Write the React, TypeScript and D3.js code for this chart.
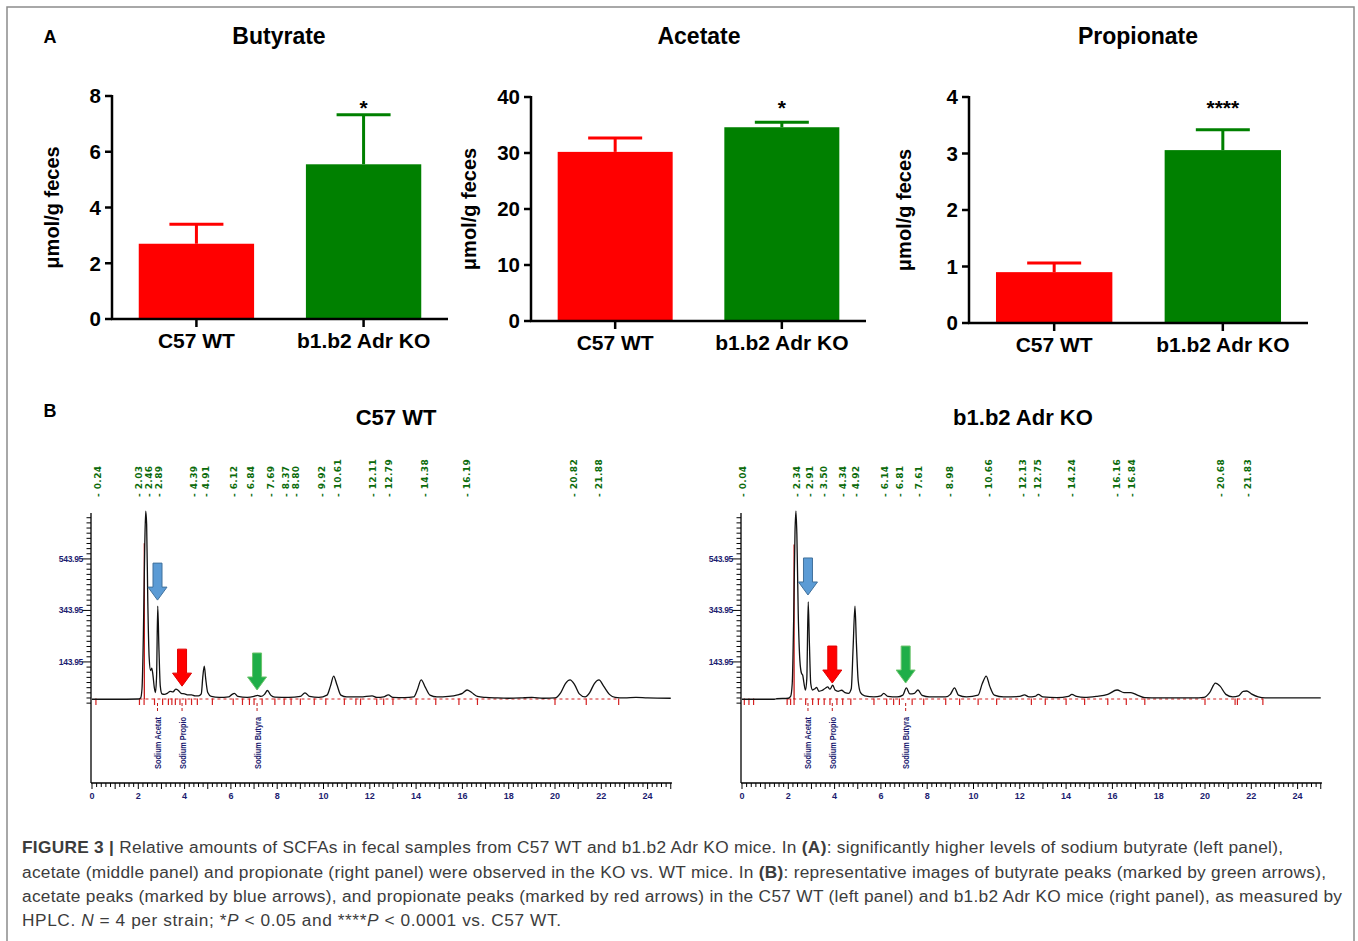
import React from "react";
import * as d3 from "d3";

// ---- panel A : SCFA amounts ----
const groups = ["C57 WT", "b1.b2 Adr KO"];
const acidNames = ["Butyrate", "Acetate", "Propionate"];
const wtMeans = [2.7, 30.2, 0.9];
const koMeans = [5.55, 34.6, 3.06];
const wtErrors = [0.7, 2.5, 0.16];
const koErrors = [1.78, 0.9, 0.36];
const yMaxes = [8, 40, 4];
const yTickSteps = [2, 10, 1];
const significance = ["*", "*", "****"];

// ---- panel B : HPLC traces (time in min, signal) ----
const wtTrace: [number, number][] = [
  [0, -1], [1, -1], [2, 0], [2.1, 4], [2.16, 40], [2.22, 250], [2.28, 600], [2.32, 730], [2.36, 680],
  [2.41, 380], [2.47, 160], [2.53, 110], [2.58, 120], [2.63, 95], [2.69, 45], [2.74, 25], [2.79, 90],
  [2.84, 361], [2.89, 200], [2.95, 50], [3.02, 20], [3.12, 18], [3.25, 22], [3.38, 30], [3.5, 28],
  [3.62, 38], [3.72, 34], [3.85, 22], [4.0, 20], [4.15, 16], [4.3, 16], [4.45, 12], [4.6, 12], [4.72, 20],
  [4.79, 90], [4.85, 128], [4.91, 80], [5.0, 25], [5.15, 10], [5.5, 6], [5.9, 8], [6.05, 18], [6.15, 22],
  [6.3, 10], [6.7, 6], [7.0, 10], [7.15, 14], [7.3, 10], [7.45, 18], [7.58, 33], [7.72, 15], [7.9, 7],
  [8.5, 6], [9.0, 10], [9.2, 24], [9.4, 10], [9.8, 6], [10.15, 15], [10.3, 50], [10.44, 89], [10.58, 55],
  [10.75, 15], [11.0, 8], [11.6, 8], [12.1, 12], [12.3, 6], [12.6, 8], [12.8, 16], [13.0, 6], [13.5, 5],
  [13.9, 8], [14.05, 35], [14.22, 74], [14.4, 45], [14.6, 15], [14.9, 8], [15.4, 10], [15.8, 16], [16.0, 22],
  [16.2, 35], [16.4, 25], [16.65, 10], [17.0, 6], [17.5, 4], [18.0, 3], [18.5, 4], [19.0, 6], [19.5, 3],
  [20.0, 4], [20.25, 25], [20.45, 60], [20.65, 74], [20.85, 55], [21.05, 20], [21.3, 8], [21.5, 25],
  [21.7, 60], [21.9, 74], [22.1, 50], [22.35, 18], [22.6, 6], [23.0, 4], [23.5, 6], [24.0, 4], [25.0, 3],
];
const koTrace: [number, number][] = [
  [0, -1], [1.4, -1], [1.5, 1], [2.0, 3], [2.1, 10], [2.17, 60], [2.23, 300], [2.29, 650], [2.33, 730],
  [2.37, 640], [2.43, 330], [2.5, 150], [2.57, 100], [2.62, 93], [2.68, 60], [2.74, 35], [2.8, 80],
  [2.86, 377], [2.91, 220], [2.97, 60], [3.05, 35], [3.15, 40], [3.22, 45], [3.32, 30], [3.45, 33],
  [3.6, 42], [3.7, 47], [3.8, 38], [3.92, 54], [4.02, 35], [4.15, 30], [4.3, 34], [4.45, 25], [4.6, 22],
  [4.72, 40], [4.8, 200], [4.88, 361], [4.94, 220], [5.02, 70], [5.12, 25], [5.3, 12], [5.7, 8], [6.0, 12],
  [6.12, 22], [6.3, 10], [6.7, 8], [6.95, 15], [7.1, 43], [7.25, 20], [7.45, 22], [7.6, 35], [7.78, 14],
  [8.1, 8], [8.8, 8], [9.0, 18], [9.18, 43], [9.35, 15], [9.7, 8], [10.2, 15], [10.38, 60], [10.55, 89],
  [10.7, 50], [10.9, 15], [11.3, 8], [12.0, 10], [12.2, 16], [12.4, 8], [12.65, 10], [12.8, 18], [13.0, 8],
  [13.6, 5], [14.1, 10], [14.25, 18], [14.45, 10], [14.8, 6], [15.3, 10], [15.8, 18], [16.2, 35], [16.5, 25],
  [16.8, 25], [17.1, 14], [17.4, 5], [18, 4], [19.5, 4], [19.95, 6], [20.2, 25], [20.45, 62], [20.65, 50],
  [20.9, 18], [21.2, 8], [21.45, 12], [21.65, 30], [21.8, 31], [22.0, 20], [22.3, 8], [22.6, 4], [25.0, 4],
];
const wtPeakLabels = ["0.24", "2.03", "2.46", "2.89", "4.39", "4.91", "6.12", "6.84", "7.69", "8.37", "8.80",
  "9.92", "10.61", "12.11", "12.79", "14.38", "16.19", "20.82", "21.88"];
const koPeakLabels = ["0.04", "2.34", "2.91", "3.50", "4.34", "4.92", "6.14", "6.81", "7.61", "8.98", "10.66",
  "12.13", "12.75", "14.24", "16.16", "16.84", "20.68", "21.83"];
const wtCutMarks = [0.17, 2.05, 2.25, 2.7, 3.05, 3.3, 3.45, 3.6, 3.8, 4.05, 4.3, 4.55, 5.2, 6.1, 6.5, 6.8, 7.0,
  7.35, 7.9, 8.3, 8.6, 9.0, 9.6, 10.1, 10.9, 11.4, 11.6, 12.3, 12.6, 13.0, 14.0, 14.85, 15.85, 16.65, 20.0, 21.35, 22.75];
const koCutMarks = [0.1, 0.3, 0.5, 1.95, 2.1, 2.25, 2.75, 3.05, 3.3, 3.55, 3.8, 4.1, 4.35, 4.7, 5.7, 6.25, 6.55,
  6.8, 7.35, 7.85, 8.8, 9.4, 10.2, 11.0, 12.5, 13.1, 14.0, 14.8, 15.8, 16.6, 17.4, 20.0, 21.3, 21.4, 22.5];
const wtSpike = [2.26, 605];
const koSpike = [2.25, 600];
const compounds = ["Sodium Acetat", "Sodium Propio", "Sodium Butyra"];
const wtCompoundTimes = [2.83, 3.89, 7.13];
const koCompoundTimes = [2.85, 3.9, 7.07];
const wtArrowTips = [384, 50, 35];
const koArrowTips = [404, 62, 62];
const arrowFills = ["#5b9bd5", "#ff0000", "#1fae48"];
const arrowStrokes = ["#41719c", "#e00000", "#6cc46c"];
const chromYLabels = [143.95, 343.95, 543.95];

const FONT = "'Liberation Sans', Arial, Helvetica, sans-serif";
const NAVY = "#1c1c70";

const barLayout = [
  { axisX: 112, endX: 448, y0: 319, yTop: 96, titleX: 279, labelX: 59 },
  { axisX: 531, endX: 866, y0: 321, yTop: 97, titleX: 699, labelX: 476 },
  { axisX: 969, endX: 1308, y0: 323, yTop: 97, titleX: 1138, labelX: 911 },
];

const BarPanel = ({ i }: { i: number }) => {
  const L = barLayout[i];
  const x = d3.scaleBand().domain(groups).range([L.axisX, L.endX]).paddingInner(0.31).paddingOuter(0.16);
  const y = d3.scaleLinear().domain([0, yMaxes[i]]).range([L.y0, L.yTop]);
  const ticks = d3.range(0, yMaxes[i] + 0.001, yTickSteps[i]);
  const means = [wtMeans[i], koMeans[i]];
  const errs = [wtErrors[i], koErrors[i]];
  const colors = ["#ff0000", "#008000"];
  return (
    <g fontFamily={FONT} fontWeight="bold">
      <text x={L.titleX} y={44} textAnchor="middle" fontSize={23}>{acidNames[i]}</text>
      <text transform={`translate(${L.labelX},${(L.y0 + L.yTop) / 2}) rotate(-90)`} textAnchor="middle" fontSize={20}>
        μmol/g feces
      </text>
      {groups.map((g, k) => {
        const cx = (x(g) as number) + x.bandwidth() / 2;
        const top = y(means[k] + errs[k]);
        return (
          <g key={g}>
            <rect x={x(g)} y={y(means[k])} width={x.bandwidth()} height={L.y0 - y(means[k])} fill={colors[k]} />
            <line x1={cx} x2={cx} y1={y(means[k])} y2={top} stroke={colors[k]} strokeWidth={3} />
            <line x1={cx - 27} x2={cx + 27} y1={top} y2={top} stroke={colors[k]} strokeWidth={3} />
            <line x1={cx} x2={cx} y1={L.y0} y2={L.y0 + 8} stroke="#000" strokeWidth={2.5} />
            <text x={cx} y={L.y0 + 29} textAnchor="middle" fontSize={21}>{g}</text>
          </g>
        );
      })}
      <text x={(x(groups[1]) as number) + x.bandwidth() / 2} y={115} textAnchor="middle" fontSize={21}>
        {significance[i]}
      </text>
      <line x1={L.axisX} x2={L.axisX} y1={L.yTop - 1} y2={L.y0 + 1} stroke="#000" strokeWidth={2.5} />
      <line x1={L.axisX - 1} x2={L.endX} y1={L.y0} y2={L.y0} stroke="#000" strokeWidth={2.5} />
      {ticks.map((t) => (
        <g key={t}>
          <line x1={L.axisX - 7} x2={L.axisX} y1={y(t)} y2={y(t)} stroke="#000" strokeWidth={2.5} />
          <text x={L.axisX - 11} y={y(t)} dy="0.36em" textAnchor="end" fontSize={20.5}>{t}</text>
        </g>
      ))}
    </g>
  );
};

type ChromProps = {
  x0: number; trace: [number, number][]; cutMarks: number[]; labels: string[];
  compoundTimes: number[]; arrowTips: number[]; spike: number[]; title: string; titleX: number;
};

const Chromatogram = ({ x0, trace, cutMarks, labels, compoundTimes, arrowTips, spike, title, titleX }: ChromProps) => {
  const x = d3.scaleLinear().domain([0, 25]).range([x0, x0 + 25 * 23.15]);
  const y = d3.scaleLinear().domain([0, 200]).range([699, 647.5]);
  const line = d3.line<[number, number]>().x((d) => x(d[0])).y((d) => y(d[1])).curve(d3.curveMonotoneX);
  const axisX = x0 - 1;
  const axisBottom = 783;
  const yTicks = d3.range(0, 37).map((k) => -16.05 + 20 * k);
  const xTicks = d3.range(0, 126);
  const late = cutMarks.filter((t) => t > 1.9);
  return (
    <g>
      <text x={titleX} y={425} textAnchor="middle" fontFamily={FONT} fontWeight="bold" fontSize={22}>{title}</text>
      {labels.map((l) => (
        <text key={l} transform={`translate(${x(+l) + 3.5},497) rotate(-90)`} fontFamily="'DejaVu Sans', sans-serif"
          fontWeight="bold" fontSize={9} letterSpacing={0.4} fill="#0b6b0b">
          {`- ${l}`}
        </text>
      ))}
      {/* axes */}
      <line x1={axisX} x2={axisX} y1={513} y2={axisBottom} stroke="#000" strokeWidth={1.3} />
      <line x1={axisX} x2={x(25.05)} y1={axisBottom} y2={axisBottom} stroke="#000" strokeWidth={1.3} />
      {yTicks.map((v) => {
        const lab = chromYLabels.some((c) => Math.abs(c - v) < 0.01);
        return <line key={v} x1={axisX - (lab ? 9 : 4.5)} x2={axisX} y1={y(v)} y2={y(v)} stroke="#000" strokeWidth={1} />;
      })}
      {chromYLabels.map((v) => (
        <text key={v} x={axisX - 8} y={y(v)} dy="0.35em" textAnchor="end" fontFamily={FONT} fontWeight="bold"
          fontSize={8.5} letterSpacing={-0.3} fill={NAVY}>{v.toFixed(2)}</text>
      ))}
      {xTicks.map((k) => (
        <line key={k} x1={x(k / 5)} x2={x(k / 5)} y1={axisBottom} y2={axisBottom + (k % 5 === 0 ? 6 : 4)}
          stroke="#000" strokeWidth={1} />
      ))}
      {xTicks.filter((k) => k % 10 === 0 && k <= 120).map((k) => (
        <text key={k} x={x(k / 5)} y={799} textAnchor="middle" fontFamily={FONT} fontWeight="bold" fontSize={9}
          fill={NAVY}>{k / 5}</text>
      ))}
      {/* integration baseline and cut marks */}
      <line x1={x(late[0])} x2={x(late[late.length - 1])} y1={y(0)} y2={y(0)} stroke="#d42020" strokeWidth={1}
        strokeDasharray="3,3" />
      {cutMarks.map((t) => (
        <line key={t} x1={x(t)} x2={x(t)} y1={y(2)} y2={y(0) + 6} stroke="#d42020" strokeWidth={1.2} />
      ))}
      <line x1={x(spike[0])} x2={x(spike[0])} y1={y(0)} y2={y(spike[1])} stroke="#c01818" strokeWidth={1.3} />
      <path d={line(trace) || ""} fill="none" stroke="#111" strokeWidth={1.3} />
      {/* compound labels */}
      {compounds.map((c, k) => (
        <g key={c}>
          <line x1={x(compoundTimes[k])} x2={x(compoundTimes[k])} y1={703} y2={712} stroke="#c01818"
            strokeWidth={1} strokeDasharray="3,2" />
          <text transform={`translate(${x(compoundTimes[k]) + 3.5},769) rotate(-90)`} fontFamily={FONT}
            fontWeight="bold" fontSize={9} textLength={52} lengthAdjust="spacingAndGlyphs" fill={NAVY}>{c}</text>
        </g>
      ))}
      {/* arrows */}
      {arrowTips.map((v, k) => (
        <path key={k} transform={`translate(${x(compoundTimes[k])},${y(v)})`}
          d="M0,0 L-9.5,-13 L-4.5,-13 L-4.5,-37 L4.5,-37 L4.5,-13 L9.5,-13 Z"
          fill={arrowFills[k]} stroke={arrowStrokes[k]} strokeWidth={1} />
      ))}
    </g>
  );
};

const Caption = () => (
  <g fontFamily={FONT} fontSize={17.3} fill="#3c3c3c">
    <text x={22} y={853} textLength={1261} lengthAdjust="spacing">
      <tspan fontWeight="bold">FIGURE 3 | </tspan>Relative amounts of SCFAs in fecal samples from C57 WT and b1.b2 Adr KO
      mice. In <tspan fontWeight="bold">(A)</tspan>: significantly higher levels of sodium butyrate (left panel),
    </text>
    <text x={22} y={878} textLength={1304} lengthAdjust="spacing">
      acetate (middle panel) and propionate (right panel) were observed in the KO vs. WT mice. In{" "}
      <tspan fontWeight="bold">(B)</tspan>: representative images of butyrate peaks (marked by green arrows),
    </text>
    <text x={22} y={902} textLength={1320} lengthAdjust="spacing">
      acetate peaks (marked by blue arrows), and propionate peaks (marked by red arrows) in the C57 WT (left panel) and
      b1.b2 Adr KO mice (right panel), as measured by
    </text>
    <text x={22} y={926} textLength={539} lengthAdjust="spacing">
      HPLC. <tspan fontStyle="italic">N</tspan> = 4 per strain; *<tspan fontStyle="italic">P</tspan> {"<"} 0.05 and
      ****<tspan fontStyle="italic">P</tspan> {"<"} 0.0001 vs. C57 WT.
    </text>
  </g>
);

export default function App() {
  return (
    <svg width={1358} height={941} style={{ position: "absolute", left: 0, top: 0, background: "#fff" }}>
      <rect x={7} y={7} width={1347} height={960} fill="#fff" stroke="#8c8c8c" strokeWidth={1.5} />
      <text x={50} y={43} textAnchor="middle" fontFamily={FONT} fontWeight="bold" fontSize={18}>A</text>
      {acidNames.map((_, i) => <BarPanel key={i} i={i} />)}
      <text x={50} y={417} textAnchor="middle" fontFamily={FONT} fontWeight="bold" fontSize={18}>B</text>
      <Chromatogram x0={92} trace={wtTrace} cutMarks={wtCutMarks} labels={wtPeakLabels}
        compoundTimes={wtCompoundTimes} arrowTips={wtArrowTips} spike={wtSpike} title={groups[0]} titleX={396} />
      <Chromatogram x0={742} trace={koTrace} cutMarks={koCutMarks} labels={koPeakLabels}
        compoundTimes={koCompoundTimes} arrowTips={koArrowTips} spike={koSpike} title={groups[1]} titleX={1023} />
      <Caption />
    </svg>
  );
}
